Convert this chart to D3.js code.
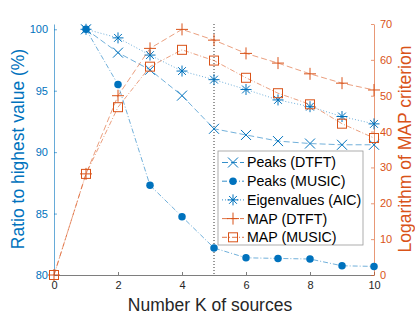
<!DOCTYPE html>
<html>
<head>
<meta charset="utf-8">
<script src="https://cdn.jsdelivr.net/npm/d3@7"></script>
<style>
  body { margin: 0; background: #fff; }
  svg { font-family: "Liberation Sans", Arial, sans-serif; display: block; }
</style>
</head>
<body>
<script>
const BLUE = '#0072BD';
const ORANGE = '#D95319';

const K = [1, 2, 3, 4, 5, 6, 7, 8, 9, 10];
const K_MAP = [0, 1, 2, 3, 4, 5, 6, 7, 8, 9, 10];

const peaksDtft = [100, 98.1, 96.7, 94.6, 91.9, 91.4, 90.9, 90.7, 90.6, 90.6];
const peaksMusic = [100, 95.5, 87.3, 84.75, 82.2, 81.4, 81.35, 81.3, 80.75, 80.7];
const eigAic = [100, 99.3, 97.9, 96.6, 95.9, 95.1, 94.25, 93.7, 92.9, 92.3];
const mapDtft = [0, 28.2, 50.0, 63.2, 68.5, 65.5, 61.8, 59.1, 56.1, 53.5, 51.6];
const mapMusic = [0, 28.2, 46.8, 58.1, 62.8, 59.8, 55.0, 50.7, 47.6, 42.2, 38.2];

const xTicks = [0, 2, 4, 6, 8, 10];
const leftTicks = [80, 85, 90, 95, 100];
const rightTicks = [0, 10, 20, 30, 40, 50, 60, 70];

const W = 415, H = 315;
const M = {left: 54, right: 41, top: 24, bottom: 40};

const svg = d3.select('body').append('svg')
    .attr('width', W)
    .attr('height', H);

const x = d3.scaleLinear().domain([0, 10]).range([M.left, W - M.right]);
const yL = d3.scaleLinear().domain([80, 100.43]).range([H - M.bottom, M.top]);
const yR = d3.scaleLinear().domain([0, 70]).range([H - M.bottom, M.top]);

// axes
const xAxis = svg.append('g')
    .attr('transform', 'translate(0,' + (H - M.bottom) + ')')
    .call(d3.axisBottom(x).tickValues(xTicks).tickSize(-3).tickPadding(6).tickSizeOuter(0));
xAxis.select('.domain').attr('stroke', '#262626').attr('stroke-width', 0.6);
xAxis.selectAll('.tick line').attr('stroke', '#262626').attr('stroke-width', 0.6);
xAxis.selectAll('text').attr('fill', '#262626').style('font-size', '11px');

const lAxis = svg.append('g')
    .attr('transform', 'translate(' + M.left + ',0)')
    .call(d3.axisLeft(yL).tickValues(leftTicks).tickSize(-3).tickPadding(6).tickSizeOuter(0));
lAxis.select('.domain').attr('stroke', BLUE).attr('stroke-width', 0.6);
lAxis.selectAll('.tick line').attr('stroke', BLUE).attr('stroke-width', 0.6);
lAxis.selectAll('text').attr('fill', BLUE).style('font-size', '11px');

const rAxis = svg.append('g')
    .attr('transform', 'translate(' + (W - M.right) + ',0)')
    .call(d3.axisRight(yR).tickValues(rightTicks).tickSize(-3).tickPadding(6).tickSizeOuter(0));
rAxis.select('.domain').attr('stroke', ORANGE).attr('stroke-width', 0.6);
rAxis.selectAll('.tick line').attr('stroke', ORANGE).attr('stroke-width', 0.6);
rAxis.selectAll('text').attr('fill', ORANGE).style('font-size', '11px');

// axis labels
svg.append('text')
    .attr('transform', 'translate(24,149) rotate(-90)')
    .attr('text-anchor', 'middle')
    .attr('fill', BLUE)
    .style('font-size', '17.5px')
    .text('Ratio to highest value (%)');

svg.append('text')
    .attr('transform', 'translate(411,149) rotate(-90)')
    .attr('text-anchor', 'middle')
    .attr('fill', ORANGE)
    .style('font-size', '17.5px')
    .text('Logarithm of MAP criterion');

svg.append('text')
    .attr('x', 210)
    .attr('y', 310.5)
    .attr('text-anchor', 'middle')
    .attr('fill', '#262626')
    .style('font-size', '17.5px')
    .text('Number K of sources');

// vertical dotted line at K = 5
svg.append('line')
    .attr('x1', x(5)).attr('x2', x(5))
    .attr('y1', M.top).attr('y2', H - M.bottom)
    .attr('stroke', '#000')
    .attr('stroke-width', 0.8)
    .attr('stroke-dasharray', '1,2');

// markers
function marker(g, type, color, size) {
    const s = size / 2;
    if (type === 'x') {
        g.append('path').attr('d', `M${-s},${-s}L${s},${s}M${-s},${s}L${s},${-s}`)
            .attr('stroke', color).attr('stroke-width', 1).attr('fill', 'none');
    } else if (type === 'o') {
        g.append('circle').attr('r', s).attr('fill', color);
    } else if (type === '*') {
        const d = s * 0.71;
        g.append('path').attr('d', `M0,${-s}L0,${s}M${-s},0L${s},0M${-d},${-d}L${d},${d}M${-d},${d}L${d},${-d}`)
            .attr('stroke', color).attr('stroke-width', 1).attr('fill', 'none');
    } else if (type === '+') {
        g.append('path').attr('d', `M0,${-s}L0,${s}M${-s},0L${s},0`)
            .attr('stroke', color).attr('stroke-width', 1).attr('fill', 'none');
    } else if (type === 's') {
        g.append('rect').attr('x', -s).attr('y', -s).attr('width', size).attr('height', size)
            .attr('stroke', color).attr('stroke-width', 1).attr('fill', 'none');
    }
}

const series = [
    {name: 'Peaks (DTFT)', xs: K, ys: peaksDtft, y: yL, color: BLUE, dash: '6,3', m: 'x', ms: 10},
    {name: 'Peaks (MUSIC)', xs: K, ys: peaksMusic, y: yL, color: BLUE, dash: '5,2,1,2', m: 'o', ms: 7.5},
    {name: 'Eigenvalues (AIC)', xs: K, ys: eigAic, y: yL, color: BLUE, dash: '1,2', m: '*', ms: 11},
    {name: 'MAP (DTFT)', xs: K_MAP, ys: mapDtft, y: yR, color: ORANGE, dash: '6,3', m: '+', ms: 12},
    {name: 'MAP (MUSIC)', xs: K_MAP, ys: mapMusic, y: yR, color: ORANGE, dash: '5,2,1,2', m: 's', ms: 9}
];

series.forEach(s => {
    const pts = s.xs.map((k, i) => [k, s.ys[i]]);
    svg.append('path')
        .datum(pts)
        .attr('fill', 'none')
        .attr('stroke', s.color)
        .attr('stroke-opacity', 0.7)
        .attr('stroke-width', 0.8)
        .attr('stroke-dasharray', s.dash)
        .attr('d', d3.line().x(d => x(d[0])).y(d => s.y(d[1])));
    svg.append('g').selectAll('g')
        .data(pts)
        .join('g')
        .attr('transform', d => 'translate(' + x(d[0]) + ',' + s.y(d[1]) + ')')
        .each(function() { marker(d3.select(this), s.m, s.color, s.ms); });
});

// legend
const legend = svg.append('g').attr('transform', 'translate(218,151)');
legend.append('rect')
    .attr('width', 145).attr('height', 94)
    .attr('fill', '#fff')
    .attr('stroke', '#999')
    .attr('stroke-width', 0.8);

series.forEach((s, i) => {
    const row = legend.append('g').attr('transform', 'translate(0,' + (11.5 + i * 18.7) + ')');
    row.append('line')
        .attr('x1', 4).attr('x2', 26)
        .attr('stroke', s.color)
        .attr('stroke-width', 0.8)
        .attr('stroke-dasharray', s.dash);
    const mg = row.append('g').attr('transform', 'translate(15,0)');
    marker(mg, s.m, s.color, s.ms);
    row.append('text')
        .attr('x', 29)
        .attr('dy', '0.35em')
        .attr('fill', '#000')
        .style('font-size', '14.2px')
        .text(s.name);
});
</script>
</body>
</html>
